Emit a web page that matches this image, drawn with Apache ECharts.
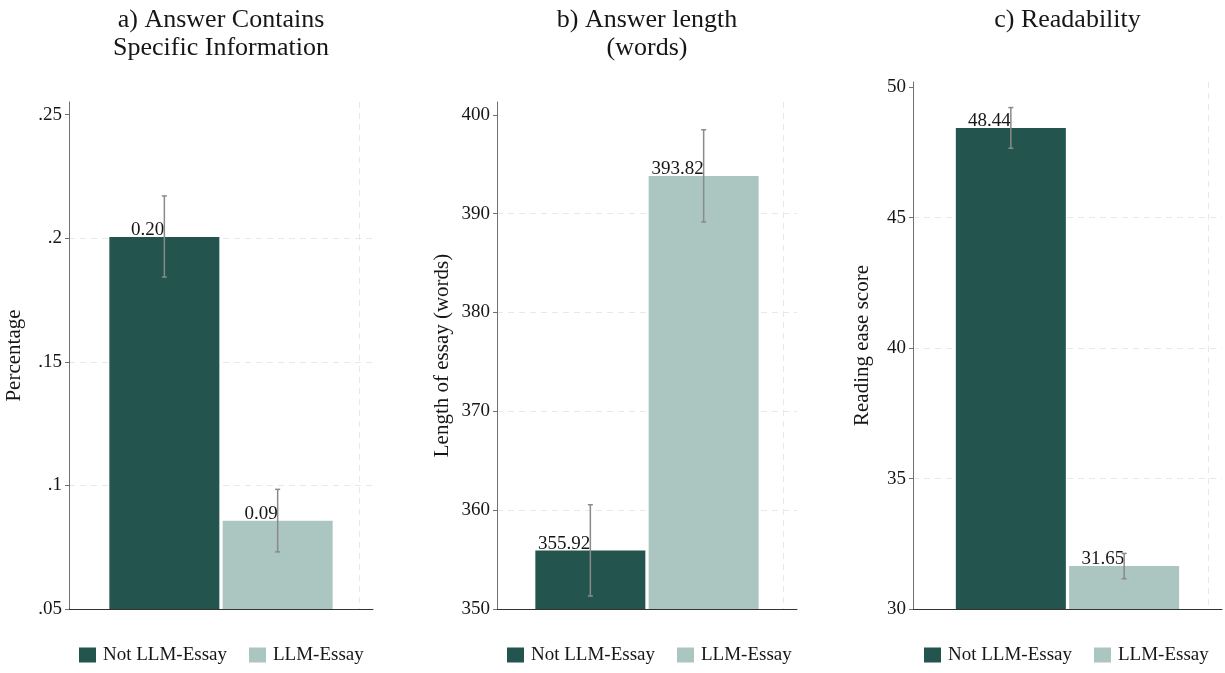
<!DOCTYPE html>
<html>
<head>
<meta charset="utf-8">
<script src="https://cdn.jsdelivr.net/npm/echarts@6/dist/echarts.min.js"></script>
<style>
  html, body { margin: 0; padding: 0; background: #fff; }
  #chart { width: 1225px; height: 673px; }
</style>
</head>
<body>
<div id="chart"></div>
<script>
// Groups compared in every panel
const groups = ['Not LLM-Essay', 'LLM-Essay'];
const panelTitles = ['a) Answer Contains\nSpecific Information', 'b) Answer length\n(words)', 'c) Readability'];
const axisNames = ['Percentage', 'Length of essay (words)', 'Reading ease score'];

// Means with 95% confidence bounds, ordered as in `groups`
const specificInfoMean = [0.2005, 0.0857];
const specificInfoLow  = [0.1843, 0.0731];
const specificInfoHigh = [0.2171, 0.0984];

const lengthMean = [355.92, 393.82];
const lengthLow  = [351.31, 389.16];
const lengthHigh = [360.55, 398.49];

const readabilityMean = [48.44, 31.65];
const readabilityLow  = [47.66, 31.16];
const readabilityHigh = [49.22, 32.13];

// Labelled y ticks per panel
const specificInfoTicks = [0.05, 0.1, 0.15, 0.2, 0.25];
const lengthTicks = [350, 360, 370, 380, 390, 400];
const readabilityTicks = [30, 35, 40, 45, 50];

const COLORS = ['#23544e', '#abc5c1'];
const FONT = '"Liberation Serif", "Times New Roman", serif';
const TEXT = '#161616';
const GRID_LINE = '#e8e8e8';
const BAR_WIDTH = 110;
const BAR_GAP = 0.03;

// Plot-area layout for each panel
const panels = [
  { mean: specificInfoMean, low: specificInfoLow, high: specificInfoHigh, ticks: specificInfoTicks,
    max: 0.2551, step: 0.05, left: 69, width: 304, top: 102, nameGap: 44, legendLeft: 79,
    fmt: v => String(+v.toFixed(3)).replace(/^0\./, '.') },
  { mean: lengthMean, low: lengthLow, high: lengthHigh, ticks: lengthTicks,
    max: 401.3, step: 10, left: 497, width: 300, top: 102, nameGap: 44, legendLeft: 507,
    fmt: v => String(v) },
  { mean: readabilityMean, low: readabilityLow, high: readabilityHigh, ticks: readabilityTicks,
    max: 50.2, step: 5, left: 913, width: 309, top: 82, nameGap: 40, legendLeft: 924,
    fmt: v => String(v) }
];
const PLOT_BOTTOM = 609;

const title = [], grid = [], xAxis = [], yAxis = [], series = [], legend = [];

panels.forEach((p, i) => {
  const center = p.left + p.width / 2;
  title.push({
    text: panelTitles[i], left: center, top: 6, textAlign: 'center', padding: 0,
    textStyle: { fontFamily: FONT, fontSize: 26, lineHeight: 28, fontWeight: 'normal', color: TEXT }
  });
  grid.push({ left: p.left, width: p.width, top: p.top, height: PLOT_BOTTOM - p.top });

  // category axis holding the two bars
  xAxis.push({
    type: 'category', gridIndex: i, data: [''],
    axisLine: { lineStyle: { color: '#333', width: 1 } },
    axisTick: { show: false }, axisLabel: { show: false }, splitLine: { show: false }
  });
  // helper axis drawing the dashed vertical reference line near the right edge
  xAxis.push({
    type: 'value', gridIndex: i, min: 0, max: 1, interval: 0.955,
    axisLine: { show: false }, axisTick: { show: false }, axisLabel: { show: false },
    splitLine: { show: true, showMinLine: false, showMaxLine: false,
      lineStyle: { color: GRID_LINE, type: [6, 5], width: 1 } }
  });

  yAxis.push({
    type: 'value', gridIndex: i, min: p.ticks[0], max: p.max, interval: p.step,
    name: axisNames[i], nameLocation: 'middle', nameGap: p.nameGap,
    nameTextStyle: { fontFamily: FONT, fontSize: 21, color: TEXT },
    axisLine: { show: true, lineStyle: { color: '#707070', width: 1 } },
    axisTick: { show: true, length: 4, lineStyle: { color: '#707070' }, customValues: p.ticks },
    axisLabel: { fontFamily: FONT, fontSize: 19, color: TEXT, margin: 7,
      customValues: p.ticks, formatter: p.fmt },
    splitLine: { show: true, showMinLine: false, showMaxLine: false,
      lineStyle: { color: GRID_LINE, type: [6, 5], width: 1 } }
  });

  groups.forEach((g, k) => {
    series.push({
      type: 'bar', name: g, xAxisIndex: i * 2, yAxisIndex: i,
      data: [p.mean[k]], barWidth: BAR_WIDTH, barGap: (BAR_GAP * 100) + '%',
      itemStyle: { color: COLORS[k] },
      label: { show: true, position: 'top', align: 'right', distance: -3,
        fontFamily: FONT, fontSize: 19, color: TEXT,
        formatter: d => d.value.toFixed(2) },
      z: 2
    });
  });

  // confidence-interval whiskers, centred on each bar
  series.push({
    type: 'custom', xAxisIndex: i * 2, yAxisIndex: i, z: 5, silent: true,
    encode: { x: 0, y: [1, 2] },
    data: groups.map((g, k) => [0, p.low[k], p.high[k], k]),
    renderItem: (params, api) => {
      const k = api.value(3);
      const lo = api.coord([api.value(0), api.value(1)]);
      const hi = api.coord([api.value(0), api.value(2)]);
      const x = lo[0] + (k === 0 ? -1 : 1) * BAR_WIDTH * (1 + BAR_GAP) / 2;
      const cap = 2.5;
      const style = { stroke: '#8a8a8a', lineWidth: 1.5 };
      return {
        type: 'group',
        children: [
          { type: 'line', shape: { x1: x, y1: lo[1], x2: x, y2: hi[1] }, style },
          { type: 'line', shape: { x1: x - cap, y1: lo[1], x2: x + cap, y2: lo[1] }, style },
          { type: 'line', shape: { x1: x - cap, y1: hi[1], x2: x + cap, y2: hi[1] }, style }
        ]
      };
    }
  });

  legend.push({
    data: groups, left: p.legendLeft, top: 645, orient: 'horizontal',
    icon: 'rect', itemWidth: 17, itemHeight: 15, itemGap: 22, padding: 0,
    selectedMode: false,
    textStyle: { fontFamily: FONT, fontSize: 19, color: TEXT, lineHeight: 20, padding: [0, 0, 0, 2] }
  });
});

const chart = echarts.init(document.getElementById('chart'), null, { renderer: 'canvas' });
chart.setOption({
  backgroundColor: '#fff',
  animation: false,
  title, grid, xAxis, yAxis, series, legend
});
</script>
</body>
</html>
